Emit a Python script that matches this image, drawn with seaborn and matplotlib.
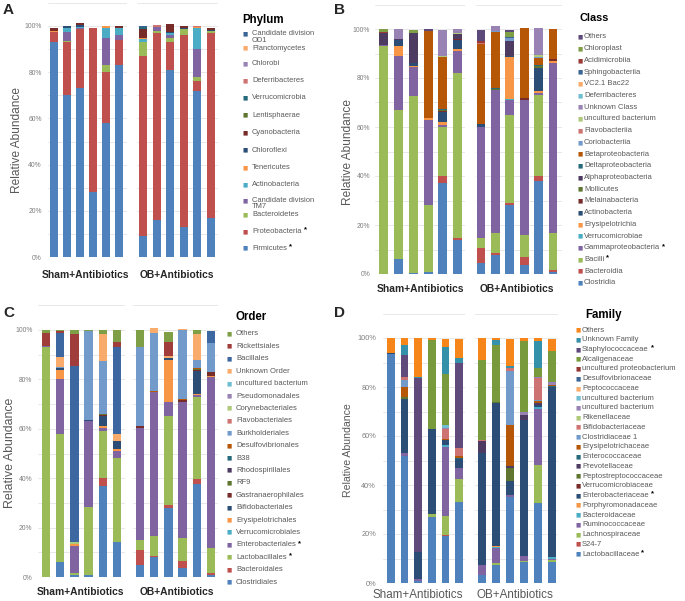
import numpy as np
import pandas as pd
import matplotlib
matplotlib.use("Agg")
import matplotlib.pyplot as plt
import seaborn as sns

sns.set_theme(style="white")
plt.rcParams["font.family"] = ["Liberation Sans", "DejaVu Sans"]

# ---------------- DATA (percent, 6 Sham+Antibiotics then 6 OB+Antibiotics) ----
samples = ["S1", "S2", "S3", "S4", "S5", "S6", "O1", "O2", "O3", "O4", "O5", "O6"]
group_labels = ["Sham+Antibiotics", "OB+Antibiotics"]

# Panel A: Phylum (bottom -> top of the stack)
phylum_names = ["Firmicutes", "Proteobacteria", "Bacteroidetes", "Candidate division\nTM7",
                "Actinobacteria", "Tenericutes", "Chloroflexi", "Cyanobacteria",
                "Lentisphaerae", "Verrucomicrobia", "Deferribacteres", "Chlorobi",
                "Planctomycetes", "Candidate division\nOD1"]
phylum_stars = ["Firmicutes", "Proteobacteria"]
phylum_colors = ["#4F81BD", "#C0504D", "#9BBB59", "#8064A2", "#4BACC6", "#F79646",
                 "#2C4D75", "#772C2A", "#5F7530", "#276A7C", "#CD7371", "#9983B5",
                 "#F9AB6B", "#3A6595"]
phylum_values = [
    [93, 70, 73, 28, 58, 83, 9, 16, 81, 13, 72, 17],
    [4.5, 23, 25.5, 71, 22, 11, 78, 81, 12, 83, 4, 80],
    [0, 0.3, 0, 0, 3, 0, 6.2, 0.8, 2, 2.8, 1.8, 1],
    [0, 4, 0.5, 0, 12, 2, 0, 1.9, 1, 0, 12.2, 0],
    [0, 2, 0.7, 0, 4, 3, 1, 0, 1, 0, 9, 0],
    [0.5, 0, 0, 0, 0.8, 0, 0.4, 0, 0, 0, 0.7, 0],
    [0, 0.5, 0.6, 0, 0, 0.3, 0, 0, 0.3, 0.3, 0, 0.3],
    [1.0, 0, 0.8, 0, 0, 0.7, 4.1, 0, 3.5, 0.8, 0, 0.8],
    [0, 0, 0, 0, 0, 0, 0, 0, 0, 0, 0, 0],
    [0, 0, 0, 0, 0, 0, 0.9, 0, 0, 0, 0, 0],
    [0, 0, 0, 0, 0.3, 0, 0, 0.6, 0, 0, 0.3, 0],
    [0, 0.3, 0, 0.3, 0, 0, 0, 0, 0, 0, 0, 0],
    [0, 0, 0, 0, 0, 0, 0, 0, 0, 0, 0, 0],
    [0, 0, 0, 0, 0, 0, 0.4, 0, 0, 0, 0, 0],
]

# Panel B: Class
class_names = ["Clostridia", "Bacteroidia", "Bacilli", "Gammaproteobacteria",
               "Verrucomicrobiae", "Erysipelotrichia", "Actinobacteria", "Melainabacteria",
               "Mollicutes", "Alphaproteobacteria", "Deltaproteobacteria",
               "Betaproteobacteria", "Coriobacteriia", "Flavobacteriia",
               "uncultured bacterium", "Unknown Class", "Deferribacteres", "VC2.1 Bac22",
               "Sphingobacteriia", "Acidimicrobiia", "Chloroplast", "Others"]
class_stars = ["Bacilli", "Gammaproteobacteria"]
class_colors = ["#4F81BD", "#C0504D", "#9BBB59", "#8064A2", "#4BACC6", "#F79646",
                "#2C4D75", "#772C2A", "#5F7530", "#4D3B62", "#276A7C", "#B65708",
                "#729ACA", "#CD7371", "#AFC97A", "#9983B5", "#6FBDD1", "#F9AB6B",
                "#3A6595", "#9A3B38", "#7E9F46", "#5C4A7A"]
class_values = [
    [0, 6, 0.5, 1, 37, 14, 4.5, 7.9, 28, 3.5, 38, 1],
    [0, 0, 0, 0, 3, 0.5, 6.2, 0.8, 1, 3.4, 2, 0.8],
    [93, 61, 72, 27, 20, 67.5, 4.1, 8, 36, 9, 33, 14.9],
    [0.5, 22, 12, 35, 1, 9, 45.4, 58.4, 6, 55, 1, 69.3],
    [0, 0, 0, 0, 0, 0, 0, 0, 0.5, 0, 0, 0],
    [0, 4, 0.5, 0.5, 1, 1, 0, 0, 17, 0.3, 0.7, 0.8],
    [0, 2.5, 1, 0, 4.3, 3.5, 1, 0, 0.5, 0, 9.5, 0],
    [0, 0, 0, 0, 0.3, 0.5, 0, 0, 0, 0.7, 0, 1],
    [0, 0, 0, 0, 0.4, 0, 0, 0.5, 0, 0, 0.5, 0],
    [5, 0.5, 12.5, 0, 0, 2, 0, 0, 6.3, 0, 0, 0],
    [0, 0, 0, 0, 0.4, 0, 0, 0.5, 0, 0, 0.5, 0],
    [0, 0, 0, 35.7, 21, 0, 32.7, 22.8, 0, 28.6, 3, 12.2],
    [0, 0, 0, 0, 0, 0, 0, 0.4, 1, 0, 0.3, 0],
    [0, 0, 0, 0, 0, 0, 0.5, 0, 0, 0, 0, 0],
    [0, 0, 0, 0, 0.5, 0.5, 0, 0, 0, 0, 0.8, 0],
    [0, 3.9, 0, 0, 10.5, 1.5, 0, 1.8, 0, 0, 11, 0],
    [0, 0, 0, 0, 0.2, 0, 0, 0, 0, 0, 0, 0],
    [0, 0, 0, 0, 0, 0, 0, 0, 0, 0, 0, 0],
    [0, 0, 0, 0, 0, 0, 0, 0, 0.3, 0, 0, 0],
    [0.3, 0, 0, 0, 0, 0, 0.5, 0, 0, 0, 0, 0],
    [1.2, 0, 1.2, 0, 0, 0, 0, 0, 2, 0, 0, 0],
    [0, 0, 0, 0.6, 0, 0, 4.7, 0, 1, 0, 0, 0],
]

# Panel C: Order
order_names = ["Clostridiales", "Bacteroidales", "Lactobacillales", "Enterobacteriales",
               "Verrucomicrobiales", "Erysipelotrichales", "Bifidobacteriales",
               "Gastranaerophilales", "RF9", "Rhodospirillales", "B38",
               "Desulfovibrionales", "Burkholderiales", "Flavobacteriales",
               "Corynebacteriales", "Pseudomonadales", "uncultured bacterium",
               "Unknown Order", "Bacillales", "Rickettsiales", "Others"]
order_stars = ["Lactobacillales", "Enterobacteriales"]
order_colors = ["#4F81BD", "#C0504D", "#9BBB59", "#8064A2", "#4BACC6", "#F79646",
                "#2C4D75", "#772C2A", "#5F7530", "#4D3B62", "#276A7C", "#B65708",
                "#729ACA", "#CD7371", "#AFC97A", "#9983B5", "#6FBDD1", "#F9AB6B",
                "#3C67A0", "#A03C3A", "#7E9F46"]
order_values = [
    [0, 6, 0.7, 1, 37, 14, 5, 7.9, 28, 3.6, 37.8, 0.8],
    [0, 0, 0, 0, 3, 0.3, 5.8, 0.8, 1, 3, 2, 1],
    [93, 52, 0.8, 27.3, 19.2, 33.7, 4, 7.7, 36, 9.1, 33.2, 10.1],
    [0.7, 22, 11, 34.9, 1, 3.2, 45.4, 58.6, 6, 55.3, 0.5, 69.1],
    [0, 0, 0, 0, 0, 0, 0, 0, 0, 0, 0, 0],
    [0, 4, 1, 0, 0.8, 0.8, 0, 0, 17, 0, 0.5, 0.5],
    [0, 0.8, 0, 0.3, 4, 3, 0, 0, 0.8, 0, 9.6, 0],
    [0, 0, 0, 0, 0.5, 0, 0.8, 0, 0, 0.8, 0.4, 1.3],
    [0, 0, 0, 0, 0.5, 0, 0, 0, 0, 0, 0.4, 0],
    [0, 0, 0, 0, 0, 0, 0, 0, 0, 0, 0, 0],
    [0, 0, 0, 0, 0, 0, 0, 0, 0, 0, 0, 0],
    [0, 0, 0, 0, 0, 0, 0, 0.5, 0, 0.4, 0.4, 0],
    [0, 0.2, 0, 36, 21.5, 0, 32, 23.3, 0, 28, 3, 12],
    [0, 0, 0, 0, 0, 0, 0, 0, 0, 0, 0, 0],
    [0, 0, 0.5, 0, 0, 0, 0, 0, 0, 0, 0, 0],
    [0, 0, 0, 0, 0, 0, 0, 0, 0, 0, 0, 0],
    [0, 0, 0, 0, 0, 0, 0, 0, 0, 0, 0, 0],
    [0, 4.2, 0, 0, 10.9, 3, 0, 2.2, 0.8, 0.4, 10.5, 0],
    [0, 9.4, 71.4, 0, 0, 35, 0, 0, 0, 0, 0, 4.6],
    [4.9, 0.9, 13, 0, 0, 2, 0, 0, 5.5, 0, 0, 0],
    [1.4, 0.5, 1.6, 0.7, 1.6, 5, 7, 0, 4, 0, 1.5, 0],
]

# Panel D: Family
family_names = ["Lactobacillaceae", "S24-7", "Lachnospiraceae", "Ruminococcaceae",
                "Bacteroidaceae", "Porphyromonadaceae", "Enterobacteriaceae",
                "Verrucomicrobiaceae", "Peptostreptococcaceae", "Prevotellaceae",
                "Enterococcaceae", "Erysipelotrichaceae", "Clostridiaceae 1",
                "Bifidobacteriaceae", "Rikenellaceae", "uncultured bacterium",
                "uncultured bacterium", "Peptococcaceae", "Desulfovibrionaceae",
                "uncultured proteobacterium", "Alcaligenaceae", "Staphylococcaceae",
                "Unknown Family", "Others"]
family_stars = ["Lactobacillaceae", "Enterobacteriaceae", "Staphylococcaceae"]
family_colors = ["#4F81BD", "#C0504D", "#9BBB59", "#8064A2", "#4BACC6", "#F79646",
                 "#2C4D75", "#772C2A", "#5F7530", "#4D3B62", "#276A7C", "#B65708",
                 "#729ACA", "#CD7371", "#AFC97A", "#9983B5", "#6FBDD1", "#F9AB6B",
                 "#3A6595", "#943634", "#789A3D", "#604A7B", "#3590AA", "#F6861A"]
family_values = [
    [93.3, 52, 1, 27, 19, 33.2, 3.4, 7.5, 35, 8.5, 32.6, 8.5],
    [0, 0, 0, 0, 0.5, 0, 0, 0, 0, 0, 0, 0],
    [0, 0, 0, 1, 8, 9.1, 0, 0.5, 0, 0.5, 15.5, 1],
    [0, 1, 0.6, 0, 28, 4.8, 4.1, 6.2, 1, 2, 23, 0.4],
    [0, 0, 0, 0, 0.7, 0, 0, 0.3, 0, 0, 0.8, 0.8],
    [0, 0, 0, 0, 0, 0, 0, 0.5, 0, 0, 0, 0],
    [0.5, 22, 11.2, 35, 2, 3.4, 45.4, 58.5, 5.5, 55.5, 0.6, 69.3],
    [0, 0, 0, 0, 0, 0, 0, 0, 0, 0, 0, 0],
    [0, 1, 0, 0, 0, 0, 0, 0.5, 5.4, 0, 0, 0],
    [0, 0, 0, 0, 0, 0, 5, 0, 1, 2, 1, 0],
    [0, 0, 0, 0, 0, 0.5, 0, 0, 0, 0, 0, 0.5],
    [0, 3.8, 0, 0, 0.7, 0.8, 0, 0, 16.5, 0, 0.6, 0.5],
    [0, 3.2, 0, 0, 0, 0, 0, 0, 22, 0, 0.5, 0],
    [0, 1, 0, 0, 4, 3.2, 0.4, 0, 1.4, 0, 9, 0],
    [0, 0, 0, 0, 0, 0, 0, 0, 0, 0, 0, 0],
    [0, 0, 0, 0, 0.5, 0, 0, 0, 0, 1.5, 0.5, 1],
    [0, 0, 0, 0, 1, 0, 0, 0, 0, 0, 0, 0],
    [0, 0, 0, 0, 0, 0, 0, 0, 0, 0, 0, 0],
    [0, 0, 0, 0, 0, 0, 0, 0, 0, 0, 0, 0],
    [0, 0, 0, 0, 0, 0, 0, 0, 0, 0, 0, 0],
    [0, 0, 0, 36.3, 21, 0, 32.6, 23, 0, 28.8, 3.5, 12.5],
    [0, 9, 71, 0, 0, 34.9, 0, 0, 0, 0, 0, 0],
    [0, 4, 0.3, 0, 11, 2, 0, 2, 0.8, 0, 11, 0],
    [6, 3, 16, 0.7, 3, 7.5, 9, 1, 11, 1.2, 1.4, 5],
]

# ---------------- FIGURE ----------------
W, H = 685, 601
fig = plt.figure(figsize=(W / 100, H / 100), dpi=100)
YMAX = 1.1
GRID = "#E4E4E4"
GRAY = "#595959"


def stacked_group(values, colors, cols, geom, width, show_y, ypad, ytick_size):
    c0, c5, x0, x1, ybase, ytop100 = geom
    ppu = (ybase - ytop100)
    top_pix = ybase - YMAX * ppu
    ax = fig.add_axes([x0 / W, 1 - ybase / H, (x1 - x0) / W, (ybase - top_pix) / H])
    vals = np.array(values, dtype=float)[:, cols] / 100.0
    cum = vals.cumsum(axis=0)
    labels = [samples[c] for c in cols]
    rows = []
    n = vals.shape[0]
    for k in range(n - 1, -1, -1):
        for j, lab in enumerate(labels):
            h = cum[k, j] if vals[k, j] > 0 else 0.0
            rows.append({"sample": lab, "cum": h, "taxon": f"t{k:02d}"})
    df = pd.DataFrame(rows)
    pal = {f"t{k:02d}": colors[k] for k in range(n)}
    hue_order = [f"t{k:02d}" for k in range(n - 1, -1, -1)]
    sns.barplot(data=df, x="sample", y="cum", hue="taxon", hue_order=hue_order,
                order=labels, palette=pal, dodge=False, width=width, saturation=1,
                errorbar=None, linewidth=0, legend=False, ax=ax)
    s = (c5 - c0) / 5.0
    ax.set_xlim((x0 - c0) / s, (x1 - c0) / s)
    ax.set_ylim(0, YMAX)
    ax.set_xlabel("")
    ax.set_ylabel("")
    ax.set_xticks([])
    ax.set_yticks(np.arange(0, 1.11, 0.1), minor=True)
    ax.set_yticks(np.arange(0, 1.01, 0.2))
    if show_y:
        ax.set_yticklabels([f"{int(round(v * 100))}%" for v in np.arange(0, 1.01, 0.2)],
                           fontsize=ytick_size, color="#7F7F7F")
    else:
        ax.set_yticklabels([])
    ax.tick_params(axis="y", length=0, pad=ypad)
    ax.grid(True, axis="y", which="both", color=GRID, linewidth=0.6)
    ax.set_axisbelow(True)
    for sp in ax.spines.values():
        sp.set_visible(False)
    return ax


def fx(x):
    return x / W


def fy(y):
    return 1 - y / H


def legend(title, tpos, names, colors, stars, ys, mx, tx, tsize=8.3, fsize=5.5):
    fig.text(fx(tpos[0]), fy(tpos[1]), title, fontsize=tsize, fontweight="bold",
             color="black", ha="left", va="center")
    renderer = fig.canvas.get_renderer()
    order = list(range(len(names) - 1, -1, -1))
    for y, k in zip(ys, order):
        name = names[k]
        fig.text(fx(mx), fy(y), "\u25A0", fontsize=4, color=colors[k],
                 ha="center", va="center", family="DejaVu Sans")
        if "\n" in name:
            first, second = name.split("\n")
            t = fig.text(fx(tx), fy(y), first, fontsize=fsize, color=GRAY,
                         ha="left", va="center")
            fig.text(fx(tx), fy(y + 6.5), second, fontsize=fsize, color=GRAY,
                     ha="left", va="center")
        else:
            t = fig.text(fx(tx), fy(y), name, fontsize=fsize, color=GRAY,
                         ha="left", va="center")
        if name in stars:
            bb = t.get_window_extent(renderer=renderer)
            fig.text(bb.x1 / W + 2 / W, fy(y - 1.5), "*", fontsize=5.5,
                     fontweight="bold", color="black", ha="left", va="center")


panels = [
    dict(values=phylum_values, colors=phylum_colors, width=0.58, ypad=4.5, yts=4.9,
         L=(54, 119, 48, 127, 257, 26), R=(143, 211, 137, 218, 257, 26)),
    dict(values=class_values, colors=class_colors, width=0.6, ypad=3.5, yts=4.9,
         L=(383, 458, 375, 465, 274, 29), R=(481, 553, 476, 562, 274, 29)),
    dict(values=order_values, colors=order_colors, width=0.58, ypad=4.0, yts=4.9,
         L=(46, 117, 38, 125, 577, 330), R=(140, 211, 133, 218, 577, 330)),
    dict(values=family_values, colors=family_colors, width=0.56, ypad=5.0, yts=5.3,
         L=(391, 459, 383, 465, 583, 338), R=(482, 552, 475, 558, 583, 338)),
]

sham_cols = list(range(0, 6))
ob_cols = list(range(6, 12))
for p in panels:
    stacked_group(p["values"], p["colors"], sham_cols, p["L"], p["width"], True, p["ypad"], p["yts"])
    stacked_group(p["values"], p["colors"], ob_cols, p["R"], p["width"], False, p["ypad"], p["yts"])

# panel letters
for letter, (x, y) in zip("ABCD", [(3, 10), (334, 10), (3, 313), (334, 313)]):
    fig.text(fx(x), fy(y), letter, fontsize=11, fontweight="bold", ha="left", va="center")

# y labels
for (x, y, s) in [(17, 140, 8.6), (348, 152, 8.6), (10, 453, 8.9), (348, 450, 7.6)]:
    fig.text(fx(x), fy(y), "Relative Abundance", rotation=90, fontsize=s, color=GRAY,
             ha="center", va="center")

# group labels
for (xs, xo, y) in [(85, 177, 275), (420, 517, 289), (80, 177, 592)]:
    fig.text(fx(xs), fy(y), group_labels[0], fontsize=7.4, fontweight="bold",
             color="#262626", ha="center", va="center")
    fig.text(fx(xo), fy(y), group_labels[1], fontsize=7.4, fontweight="bold",
             color="#262626", ha="center", va="center")
fig.text(fx(418), fy(595), group_labels[0], fontsize=8.4, color=GRAY, ha="center", va="center")
fig.text(fx(515), fy(595), group_labels[1], fontsize=8.4, color=GRAY, ha="center", va="center")

# legends
ysA = [33.5, 48, 63.5, 80.5, 97.5, 115, 132.5, 150, 167.5, 185, 200.5, 215, 231.5, 248]
legend("Phylum", (242, 20), phylum_names, phylum_colors, phylum_stars, ysA, 245.5, 252,
       fsize=5.4)
legend("Class", (580, 18), class_names, class_colors, class_stars,
       np.linspace(37, 283, len(class_names)), 580, 584, tsize=7.8)
legend("Order", (235, 317), order_names, order_colors, order_stars,
       np.linspace(334, 582, len(order_names)), 229.5, 236)
legend("Family", (585, 315), family_names, family_colors, family_stars,
       np.linspace(330, 554, len(family_names)), 578, 582)

fig.savefig("out.png", dpi=100)
